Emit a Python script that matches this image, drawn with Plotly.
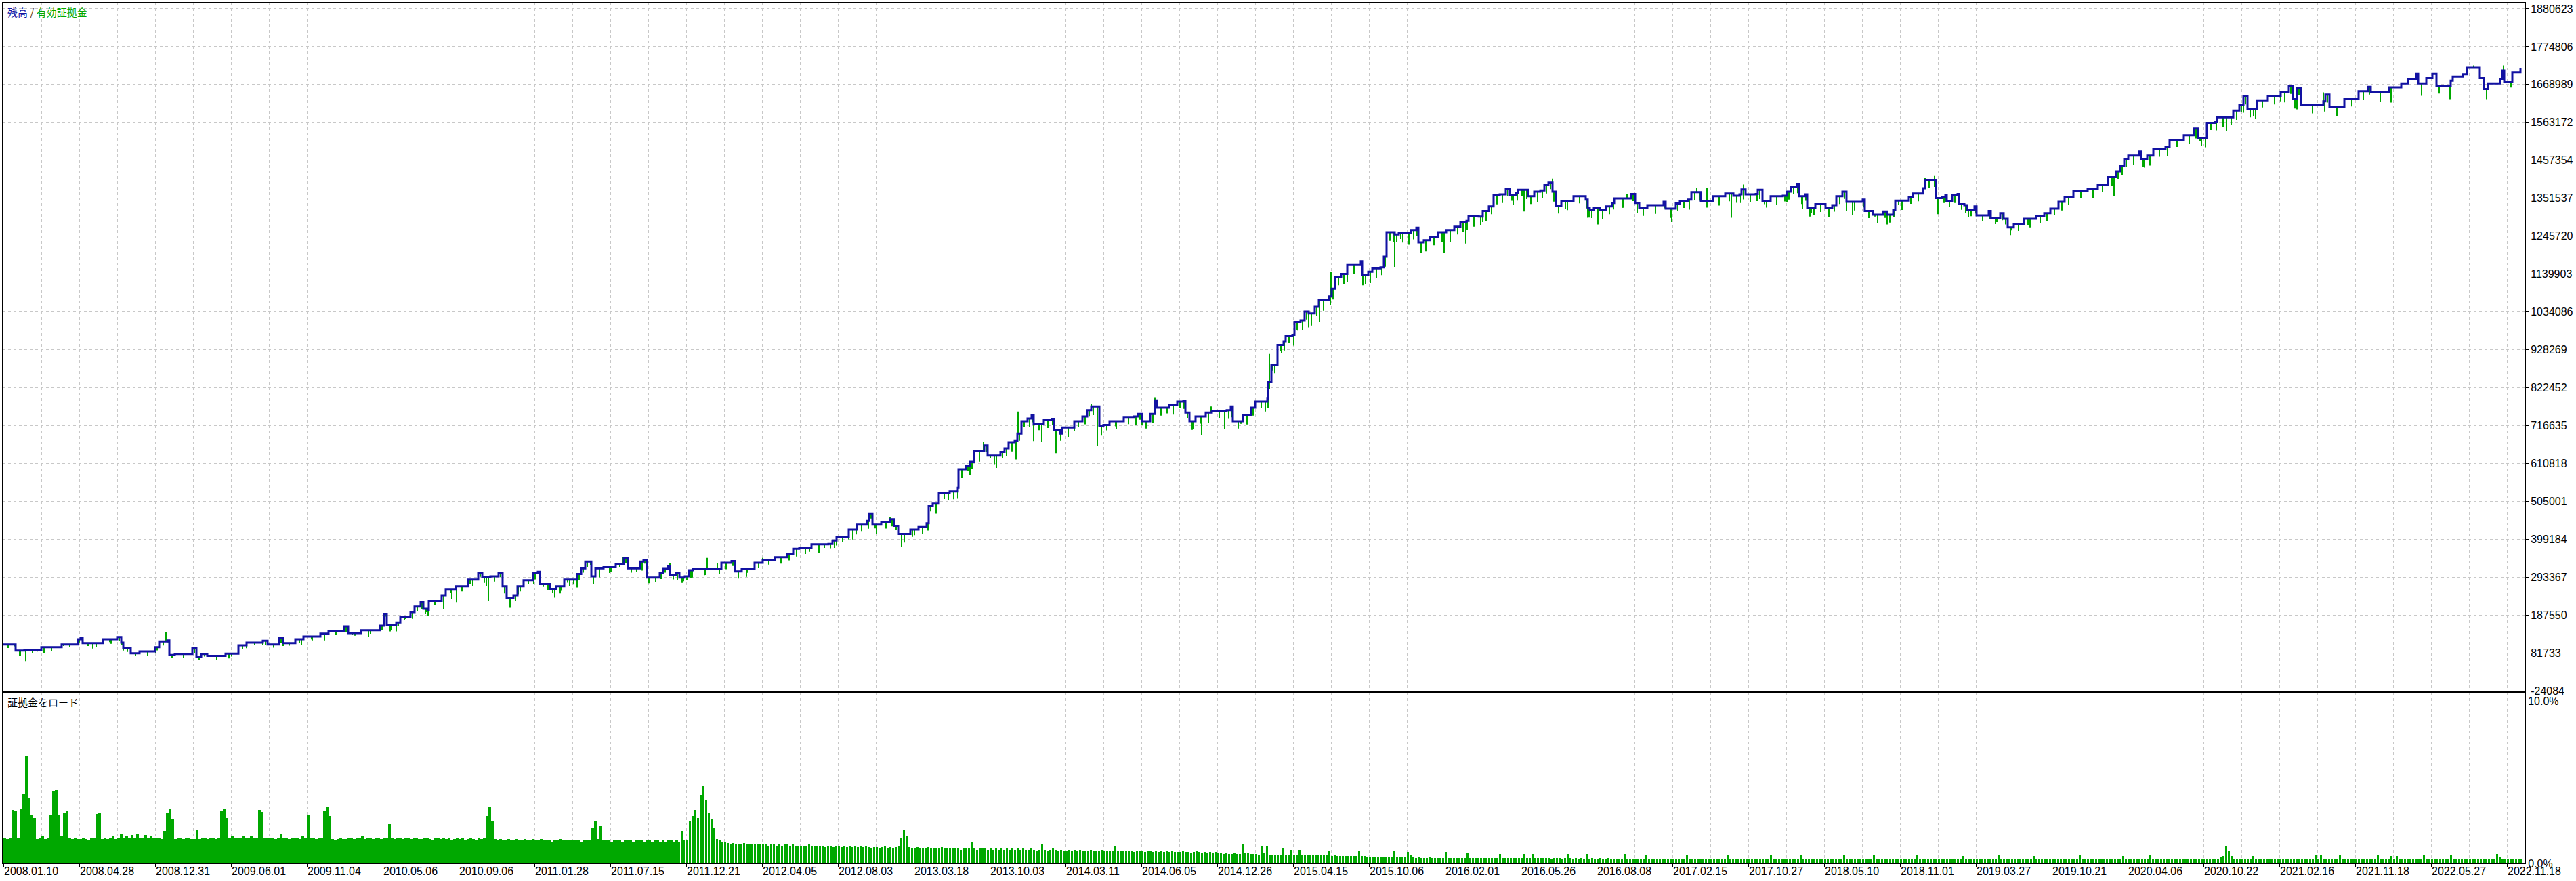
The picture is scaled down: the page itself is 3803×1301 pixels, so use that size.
import plotly.graph_objects as go
import numpy as np

# ---------------- data ----------------
deal_no = [4, 21, 23, 36, 61, 91, 115, 119, 122, 152, 173, 179, 182, 193, 206, 229, 235, 247, 250, 258,
           284, 290, 297, 306, 333, 352, 364, 388, 395, 412, 418, 436, 448, 473, 485, 508, 514, 533, 561, 567,
           571, 585, 591, 606, 612, 621, 625, 632, 633, 652, 658, 673, 691, 706, 712, 724, 736, 742, 748, 758,
           764, 773, 787, 794, 797, 806, 812, 821, 833, 842, 852, 858, 864, 870, 873, 879, 891, 909, 921, 927,
           936, 945, 950, 955, 962, 974, 979, 986, 989, 998, 1003, 1011, 1017, 1023, 1059, 1065, 1080, 1085, 1095, 1114,
           1126, 1144, 1162, 1171, 1180, 1198, 1223, 1229, 1235, 1253, 1265, 1280, 1283, 1288, 1301, 1314, 1320, 1326, 1344, 1356,
           1368, 1371, 1377, 1386, 1402, 1414, 1415, 1426, 1432, 1438, 1453, 1458, 1477, 1483, 1489, 1498, 1502, 1508, 1517, 1523,
           1526, 1541, 1553, 1556, 1565, 1568, 1586, 1598, 1605, 1611, 1617, 1623, 1629, 1638, 1659, 1674, 1680, 1686, 1698, 1705,
           1708, 1720, 1726, 1738, 1747, 1750, 1756, 1765, 1780, 1789, 1811, 1817, 1820, 1835, 1847, 1853, 1871, 1872, 1877, 1886,
           1895, 1898, 1908, 1911, 1920, 1926, 1932, 1941, 1947, 1962, 1966, 1971, 1980, 1989, 2009, 2011, 2020, 2026, 2038, 2043,
           2047, 2056, 2059, 2065, 2077, 2083, 2091, 2094, 2102, 2111, 2123, 2135, 2147, 2156, 2165, 2168, 2183, 2189, 2198, 2205,
           2214, 2223, 2229, 2238, 2241, 2253, 2256, 2265, 2274, 2280, 2286, 2292, 2297, 2305, 2323, 2341, 2344, 2347, 2353, 2362,
           2371, 2380, 2383, 2408, 2414, 2420, 2432, 2456, 2459, 2474, 2480, 2492, 2497, 2508, 2511, 2529, 2547, 2559, 2568, 2571,
           2577, 2592, 2595, 2602, 2614, 2632, 2638, 2644, 2653, 2656, 2665, 2668, 2677, 2680, 2695, 2705, 2711, 2720, 2726, 2750,
           2753, 2765, 2780, 2786, 2795, 2798, 2818, 2824, 2839, 2842, 2855, 2858, 2867, 2872, 2874, 2882, 2890, 2892, 2900, 2904,
           2915, 2918, 2936, 2939, 2953, 2958, 2964, 2973, 2988, 3006, 3018, 3027, 3039, 3048, 3061, 3082, 3097, 3112, 3124, 3130,
           3136, 3142, 3158, 3161, 3170, 3179, 3197, 3203, 3224, 3239, 3245, 3255, 3258, 3270, 3273, 3291, 3297, 3306, 3312, 3318,
           3327, 3332, 3348, 3367, 3379, 3385, 3391, 3397, 3430, 3433, 3439, 3461, 3482, 3496, 3500, 3527, 3545, 3555, 3567, 3570,
           3582, 3591, 3597, 3618, 3621, 3636, 3642, 3655, 3661, 3667, 3673, 3691, 3694, 3697, 3709, 3721]

balance = [105000, 105000, 88000, 88500, 97400, 105000, 119500, 122700, 108700, 119500, 125800, 110000, 94400, 80400, 85500, 97400, 113300, 116300, 75500, 78500,
           94400, 70900, 78500, 73500, 79500, 102600, 110000, 115200, 105000, 122700, 108700, 119500, 127400, 135200, 141600, 155400, 136500, 144900, 157300, 190800,
           160400, 166700, 182400, 195100, 210800, 223500, 204600, 201500, 226600, 242400, 258100, 267600, 286500, 305100, 292500, 295800, 305100, 267600, 236100, 242400,
           267600, 284500, 305100, 308200, 273900, 273900, 260000, 267600, 286500, 286500, 302200, 317900, 336900, 336900, 295800, 317900, 321000, 330500, 346000, 318000,
           317900, 336900, 340200, 292200, 292200, 305800, 316200, 323000, 299000, 305800, 292200, 295600, 312800, 315300, 315300, 333400, 338200, 309500, 315300, 333400,
           340200, 349000, 357400, 372800, 374000, 385100, 386000, 395200, 405600, 426300, 439900, 450300, 470800, 439900, 446800, 455000, 436400, 413700, 426300, 433000,
           443400, 491500, 498400, 529200, 532600, 543000, 594600, 604800, 615000, 645900, 661100, 632500, 642600, 652900, 670100, 673600, 694100, 728600, 736500, 745700,
           721600, 731600, 733700, 704400, 694100, 711100, 728600, 742000, 759300, 769700, 769700, 714700, 718100, 728600, 738700, 742000, 749100, 728600, 749100, 787000,
           766400, 766400, 773200, 783600, 785000, 752600, 728600, 742000, 752600, 756000, 759300, 769700, 728600, 745700, 766400, 783600, 791400, 838500, 886600, 941500,
           951900, 966600, 969700, 1005700, 1010700, 1035000, 1030000, 1048600, 1067500, 1077000, 1098900, 1130500, 1139900, 1165000, 1175800, 1136700, 1146100, 1155600, 1158700, 1188500,
           1256500, 1256500, 1250200, 1253400, 1253400, 1262800, 1269000, 1228100, 1234400, 1243800, 1256500, 1262800, 1272200, 1284900, 1288000, 1301800, 1300600, 1316200, 1328900, 1360400,
           1362300, 1377400, 1360400, 1366700, 1374900, 1374900, 1357200, 1369800, 1373000, 1388700, 1395000, 1369800, 1330800, 1344600, 1357200, 1347800, 1325700, 1318100, 1324400, 1319400,
           1328900, 1338300, 1351000, 1363500, 1338300, 1324400, 1332000, 1341500, 1322500, 1337000, 1344600, 1347800, 1368600, 1368600, 1343300, 1357200, 1364800, 1358500, 1362300, 1376100,
           1362300, 1363500, 1374900, 1343300, 1357200, 1358500, 1369800, 1382400, 1391800, 1357200, 1362300, 1324400, 1325700, 1335100, 1325700, 1332000, 1357200, 1369800, 1341500, 1347800,
           1316200, 1305600, 1314400, 1305600, 1319400, 1345000, 1354000, 1364800, 1379300, 1401300, 1401300, 1352100, 1354000, 1360400, 1344600, 1360400, 1363500, 1335100, 1332000, 1319400,
           1328900, 1303700, 1316200, 1297300, 1309900, 1294300, 1270300, 1278400, 1294300, 1301800, 1309900, 1322500, 1341500, 1354000, 1372900, 1377400, 1389900, 1410700, 1426500, 1442200,
           1461100, 1470600, 1481900, 1461100, 1470600, 1489500, 1494600, 1514600, 1527300, 1546200, 1519700, 1519700, 1561900, 1565000, 1577700, 1577700, 1596600, 1612300, 1637400, 1599600,
           1599600, 1625000, 1637400, 1646900, 1664600, 1628000, 1659600, 1612300, 1621800, 1640700, 1606100, 1628000, 1650100, 1662800, 1646900, 1661000, 1672200, 1684700, 1698700, 1672200,
           1687900, 1698700, 1665800, 1679800, 1691000, 1697500, 1716200, 1716200, 1687900, 1656300, 1672200, 1684700, 1708700, 1677100, 1703500, 1716200]

# deepest floating loss (thousands) while each balance level was held
float_loss_k = [10, 5, 14, 8, 12, 6, 9, 4, 15, 8, 12, 6, 10, 7, 13, 9, 11, 5, 8, 12,
                14, 9, 7, 12, 8, 10, 6, 11, 9, 13, 7, 10, 8, 12, 9, 15, 7, 10, 12, 8,
                15, 10, 6, 18, 12, 20, 14, 16, 12, 22, 10, 14, 18, 11, 25, 15, 12, 20, 9, 16,
                14, 10, 18, 12, 8, 16, 11, 20, 9, 14, 18, 12, 15, 10, 22, 13, 16, 9, 14, 12,
                10, 14, 9, 16, 12, 18, 10, 14, 12, 20, 15, 11, 22, 16, 12, 18, 14, 20, 10, 15,
                12, 18, 14, 22, 16, 25, 12, 20, 15, 28, 18, 22, 14, 26, 18, 20, 12, 24, 16, 20,
                20, 15, 28, 18, 22, 16, 25, 14, 20, 30, 18, 24, 16, 22, 26, 18, 20, 15, 24, 20,
                18, 22, 16, 25, 20, 28, 16, 22, 18, 24, 20, 26, 15, 22, 18, 24, 16, 20, 25, 30,
                22, 16, 26, 18, 22, 16, 24, 20, 28, 18, 24, 30, 20, 26, 22, 18, 26, 20, 24, 16,
                26, 20, 30, 24, 28, 22, 34, 26, 30, 24, 30, 22, 28, 26, 32, 24, 28, 26, 22, 28,
                24, 28, 22, 26, 32, 26, 22, 30, 26, 24, 28, 34, 22, 28, 26, 30, 24, 28, 22, 26,
                24, 20, 28, 22, 18, 26, 22, 30, 20, 24, 18, 28, 22, 26, 20, 24, 28, 22, 18, 26,
                22, 18, 26, 20, 28, 22, 24, 18, 26, 22, 20, 28, 22, 24, 18, 26, 22, 20, 24, 28,
                22, 20, 26, 18, 24, 16, 22, 20, 26, 22, 18, 24, 20, 22, 26, 18, 22, 20, 24, 22,
                20, 24, 18, 22, 20, 26, 18, 22, 16, 20, 18, 22, 16, 20, 18, 22, 20, 16, 22, 18,
                20, 16, 22, 18, 20, 16, 22, 18, 24, 20, 22, 18, 24, 20, 22, 26, 20, 24, 22, 26,
                22, 26, 20, 24, 28, 22, 26, 20, 24, 28, 22, 26, 20, 24, 28, 22, 26, 20, 24, 22,
                26, 20, 24, 28, 22, 26, 20, 24, 28, 22, 26, 20, 24, 22, 26, 0]

dip_deal = [29, 38, 55, 65, 76, 94, 130, 142, 164, 182, 206, 230, 245, 255, 291, 320, 338, 364, 388, 418,
            445, 461, 479, 520, 544, 576, 585, 597, 630, 655, 667, 674, 694, 715, 721, 753, 765, 788, 819, 829,
            841, 852, 876, 885, 902, 919, 948, 959, 975, 989, 1009, 1022, 1040, 1044, 1059, 1102, 1126, 1165, 1195, 1208,
            1217, 1235, 1253, 1264, 1292, 1314, 1331, 1347, 1400, 1414, 1432, 1452, 1462, 1471, 1500, 1503, 1526, 1538, 1559, 1586,
            1611, 1620, 1626, 1647, 1686, 1705, 1762, 1774, 1788, 1808, 1832, 1868, 1874, 1879, 1892, 1915, 1932, 1948, 1965, 1971,
            1989, 2012, 2023, 2053, 2059, 2068, 2098, 2105, 2132, 2164, 2189, 2232, 2250, 2292, 2301, 2311, 2344, 2359, 2395, 2402,
            2468, 2505, 2520, 2556, 2574, 2605, 2638, 2661, 2674, 2726, 2735, 2768, 2786, 2803, 2842, 2856, 2861, 2906, 2948, 2970,
            2994, 3121, 3164, 3248, 3287, 3312, 3327, 3367, 3391, 3430, 3439, 3530, 3575, 3601, 3617, 3652, 3671, 3696, 3707]

dip_equity = [72300, 58500, 85000, 81700, 91200, 100700, 100700, 97400, 106900, 88000, 78500, 79900, 138400, 69000, 69000, 62800, 66000, 94400, 103900, 100700,
              103900, 116300, 116300, 132200, 125800, 141600, 141600, 173000, 195100, 204600, 232900, 223400, 274000, 277000, 226600, 207800, 245600, 274000, 236100, 255000,
              267600, 264500, 287700, 292800, 308500, 350600, 311600, 281900, 288600, 333400, 281900, 292200, 299000, 347200, 333400, 294300, 347200, 340200, 364300, 360800,
              375000, 381500, 398600, 412400, 429600, 462000, 376700, 405600, 508600, 512000, 577400, 672000, 625400, 598000, 622000, 755900, 673600, 670100, 639200, 700900,
              776500, 659800, 700900, 714700, 718100, 793800, 708000, 690800, 769700, 708000, 721600, 755900, 916400, 869100, 919400, 982500, 990600, 1005800, 1146200, 1111600,
              1117800, 1108400, 1114700, 1240600, 1158800, 1237600, 1215500, 1202800, 1199800, 1224900, 1284900, 1344600, 1314400, 1406300, 1319400, 1321500, 1297300, 1278400, 1325700, 1363500,
              1284900, 1379300, 1379300, 1297300, 1389900, 1335100, 1341500, 1322600, 1309900, 1316200, 1303700, 1300500, 1278400, 1332100, 1407700, 1413900, 1306800, 1299200, 1284900, 1261400,
              1276600, 1357200, 1439000, 1511600, 1539900, 1590200, 1580800, 1621800, 1599600, 1646900, 1602900, 1618500, 1637400, 1643700, 1628000, 1722500, 1628000, 1722500, 1660900]

margin_load = [
    1.6, 1.5, 1.6, 3.3, 3.2, 1.6, 3.35, 4.3, 6.6, 4.0, 3.0, 2.8, 1.5, 1.6,
    1.7, 1.5, 1.6, 3.0, 4.45, 4.55, 3.0, 1.7, 3.1, 3.2, 1.6, 1.5, 1.55, 1.5,
    1.5, 1.6, 1.5, 1.4, 1.55, 1.6, 3.05, 3.1, 1.5, 1.6, 1.5, 1.55, 1.65, 1.5,
    1.6, 1.8, 1.6, 1.7, 1.55, 1.75, 1.6, 1.8, 1.6, 1.55, 1.75, 1.6, 1.7, 1.6,
    1.55, 1.6, 1.5, 2.0, 3.1, 3.35, 2.7, 1.5, 1.55, 1.6, 1.5, 1.55, 1.6, 1.5,
    1.5, 2.1, 1.5, 1.55, 1.6, 1.5, 1.55, 1.6, 1.5, 1.55, 3.2, 3.35, 2.8, 1.6,
    1.7, 1.55, 1.6, 1.55, 1.65, 1.55, 1.6, 1.7, 1.55, 1.6, 3.3, 3.15, 1.6, 1.55,
    1.55, 1.6, 1.5, 1.6, 1.8, 1.55, 1.6, 1.5, 1.55, 1.6, 1.55, 1.5, 1.65, 1.55,
    2.95, 1.55, 1.6, 1.5, 1.55, 1.6, 3.2, 3.45, 2.9, 1.5, 1.45, 1.5, 1.55, 1.5,
    1.5, 1.6, 1.55, 1.5, 1.6, 1.55, 1.65, 1.5, 1.55, 1.6, 1.5, 1.55, 1.6, 1.5,
    1.55, 1.6, 2.4, 1.55, 1.5, 1.6, 1.55, 1.5, 1.6, 1.55, 1.5, 1.6, 1.55, 1.5,
    1.5, 1.55, 1.6, 1.5, 1.45, 1.55, 1.6, 1.5, 1.55, 1.5, 1.6, 1.45, 1.5, 1.55,
    1.5, 1.55, 1.45, 1.5, 1.6, 1.5, 1.45, 1.55, 1.5, 1.6, 2.9, 3.5, 2.6, 1.5,
    1.45, 1.5, 1.4, 1.45, 1.5, 1.4, 1.45, 1.5, 1.45, 1.4, 1.5, 1.45, 1.4, 1.5,
    1.4, 1.45, 1.5, 1.4, 1.45, 1.4, 1.35, 1.45, 1.4, 1.5, 1.45, 1.4, 1.45, 1.4,
    1.4, 1.45, 1.4, 1.35, 1.4, 1.45, 1.4, 2.2, 2.6, 1.5, 2.3, 1.4, 1.45, 1.4,
    1.35, 1.4, 1.45, 1.4, 1.35, 1.4, 1.45, 1.4, 1.35, 1.4, 1.4, 1.45, 1.35, 1.4,
    1.4, 1.35, 1.4, 1.45, 1.35, 1.4, 1.35, 1.4, 1.45, 1.35, 1.4, 1.35, 2.0, 1.4,
    1.4, 2.6, 2.9, 3.3, 2.8, 4.2, 4.8, 3.9, 3.1, 2.7, 2.2, 1.5, 1.4, 1.35,
    1.3, 1.25, 1.2, 1.25, 1.2, 1.15, 1.2, 1.25, 1.2, 1.15, 1.2, 1.2, 1.15, 1.2,
    1.15, 1.2, 1.1, 1.15, 1.2, 1.1, 1.15, 1.1, 1.15, 1.2, 1.1, 1.15, 1.1, 1.05,
    1.1, 1.05, 1.1, 1.15, 1.05, 1.1, 1.05, 1.1, 1.05, 1.0, 1.1, 1.05, 1.0, 1.05,
    1.05, 1.0, 1.05, 1.0, 1.1, 1.0, 1.05, 1.0, 1.05, 1.0, 1.05, 1.0, 0.95, 1.0,
    1.0, 0.95, 1.0, 1.05, 0.95, 1.0, 0.95, 1.0, 1.05, 1.6, 2.1, 1.7, 1.0, 0.95,
    0.95, 1.0, 0.95, 0.9, 0.95, 1.0, 0.9, 0.95, 0.9, 0.95, 1.0, 0.9, 0.95, 0.9,
    0.9, 0.95, 0.9, 0.85, 0.9, 0.95, 0.9, 1.3, 0.9, 0.85, 0.9, 0.95, 0.9, 0.85,
    0.9, 0.85, 0.9, 0.85, 0.9, 0.85, 0.9, 0.85, 0.9, 0.85, 0.9, 0.85, 0.9, 0.85,
    0.85, 0.9, 0.85, 0.8, 0.85, 1.2, 0.85, 0.8, 0.85, 0.9, 0.85, 0.8, 0.85, 0.8,
    0.8, 0.85, 0.8, 0.85, 0.8, 0.85, 0.8, 0.75, 0.8, 0.85, 0.8, 0.75, 0.8, 0.85,
    0.8, 0.75, 0.8, 0.75, 1.1, 0.8, 0.75, 0.8, 0.75, 0.8, 0.75, 0.7, 0.75, 0.8,
    0.75, 0.7, 0.75, 0.8, 0.7, 0.75, 0.7, 0.75, 0.7, 0.75, 0.7, 0.75, 0.7, 0.7,
    0.7, 0.75, 0.7, 0.7, 0.65, 0.7, 0.75, 0.7, 0.65, 0.7, 0.65, 0.7, 0.65, 0.7,
    0.65, 0.63, 0.6, 0.63, 0.6, 0.6, 0.63, 0.6, 0.6, 1.17, 0.63, 0.63, 0.6, 0.6,
    0.58, 0.55, 1.08, 0.62, 1.08, 0.55, 0.55, 0.53, 0.55, 0.55, 0.92, 0.55, 0.53, 0.85,
    0.53, 0.55, 0.85, 0.55, 0.5, 0.53, 0.52, 0.53, 0.52, 0.5, 0.53, 0.5, 0.52, 0.8,
    0.45, 0.48, 0.47, 0.45, 0.45, 0.47, 0.46, 0.45, 0.45, 0.44, 0.78, 0.45, 0.44, 0.43,
    0.42, 0.4, 0.4, 0.38, 0.4, 0.4, 0.38, 0.4, 0.38, 0.75, 0.38, 0.36, 0.37, 0.36,
    0.7, 0.5, 0.36, 0.35, 0.36, 0.35, 0.34, 0.35, 0.36, 0.35, 0.34, 0.35, 0.34, 0.35,
    0.7, 0.34, 0.33, 0.34, 0.33, 0.34, 0.33, 0.34, 0.64, 0.33, 0.34, 0.33, 0.32, 0.33,
    0.33, 0.32, 0.33, 0.32, 0.33, 0.32, 0.6, 0.33, 0.32, 0.32, 0.33, 0.32, 0.32, 0.33,
    0.33, 0.6, 0.32, 0.32, 0.6, 0.33, 0.32, 0.32, 0.33, 0.32, 0.32, 0.31, 0.32, 0.32,
    0.32, 0.31, 0.32, 0.58, 0.32, 0.31, 0.32, 0.31, 0.32, 0.31, 0.58, 0.31, 0.32, 0.31,
    0.31, 0.32, 0.31, 0.31, 0.32, 0.31, 0.31, 0.3, 0.31, 0.31, 0.58, 0.31, 0.3, 0.31,
    0.31, 0.3, 0.31, 0.3, 0.55, 0.31, 0.3, 0.3, 0.31, 0.3, 0.3, 0.31, 0.3, 0.3,
    0.3, 0.31, 0.3, 0.3, 0.3, 0.52, 0.3, 0.3, 0.31, 0.3, 0.3, 0.3, 0.29, 0.3,
    0.3, 0.29, 0.3, 0.3, 0.29, 0.3, 0.55, 0.3, 0.29, 0.3, 0.29, 0.3, 0.3, 0.29,
    0.29, 0.3, 0.29, 0.29, 0.3, 0.29, 0.29, 0.3, 0.5, 0.29, 0.29, 0.3, 0.29, 0.29,
    0.29, 0.28, 0.29, 0.29, 0.28, 0.55, 0.29, 0.28, 0.29, 0.28, 0.29, 0.28, 0.29, 0.28,
    0.28, 0.29, 0.28, 0.28, 0.29, 0.28, 0.28, 0.5, 0.28, 0.28, 0.29, 0.28, 0.28, 0.28,
    0.28, 0.28, 0.29, 0.28, 0.55, 0.28, 0.28, 0.28, 0.27, 0.28, 0.28, 0.28, 0.27, 0.28,
    0.28, 0.27, 0.28, 0.28, 0.27, 0.28, 0.5, 0.28, 0.27, 0.28, 0.27, 0.28, 0.28, 0.27,
    0.27, 0.28, 0.27, 0.27, 0.28, 0.27, 0.27, 0.28, 0.27, 0.45, 0.27, 0.27, 0.28, 0.27,
    0.27, 0.27, 0.28, 0.27, 0.27, 0.27, 0.28, 0.27, 0.5, 0.27, 0.27, 0.27, 0.28, 0.27,
    0.27, 0.27, 0.27, 0.26, 0.27, 0.27, 0.27, 0.45, 0.27, 0.26, 0.27, 0.27, 0.26, 0.27,
    0.27, 0.26, 0.27, 0.27, 0.26, 0.27, 0.26, 0.27, 0.27, 0.26, 0.48, 0.27, 0.26, 0.27,
    0.26, 0.27, 0.26, 0.26, 0.27, 0.26, 0.26, 0.27, 0.26, 0.26, 0.27, 0.26, 0.45, 0.26,
    0.26, 0.27, 0.26, 0.26, 0.26, 0.27, 0.26, 0.26, 0.5, 0.26, 0.26, 0.27, 0.26, 0.26,
    0.26, 0.26, 0.27, 0.26, 0.26, 0.26, 0.26, 0.27, 0.26, 0.26, 0.26, 0.26, 0.27, 0.26,
    0.26, 0.26, 0.27, 0.26, 0.26, 0.26, 0.4, 0.45, 1.1, 0.8, 0.45, 0.26, 0.27, 0.26,
    0.26, 0.26, 0.26, 0.26, 0.47, 0.26, 0.26, 0.26, 0.26, 0.26, 0.26, 0.26, 0.26, 0.26,
    0.26, 0.26, 0.26, 0.26, 0.26, 0.27, 0.26, 0.26, 0.28, 0.27, 0.26, 0.28, 0.26, 0.53,
    0.3, 0.53, 0.27, 0.26, 0.27, 0.26, 0.3, 0.26, 0.48, 0.3, 0.26, 0.27, 0.26, 0.26,
    0.26, 0.26, 0.26, 0.26, 0.26, 0.26, 0.26, 0.3, 0.53, 0.3, 0.26, 0.26, 0.26, 0.45,
    0.26, 0.45, 0.26, 0.26, 0.26, 0.26, 0.26, 0.26, 0.26, 0.26, 0.3, 0.53, 0.3, 0.26,
    0.26, 0.26, 0.26, 0.26, 0.26, 0.26, 0.3, 0.53, 0.3, 0.26, 0.26, 0.26, 0.26, 0.26,
    0.26, 0.26, 0.26, 0.26, 0.26, 0.26, 0.26, 0.26, 0.26, 0.3, 0.58, 0.4, 0.26, 0.26,
    0.26, 0.26, 0.26, 0.26, 0.26, 0.26,
]

y_tick_values = [1880623, 1774806, 1668989, 1563172, 1457354, 1351537, 1245720, 1139903, 1034086, 928269,
                 822452, 716635, 610818, 505001, 399184, 293367, 187550, 81733, -24084]

x_tick_labels = ["2008.01.10", "2008.04.28", "2008.12.31", "2009.06.01", "2009.11.04", "2010.05.06",
                 "2010.09.06", "2011.01.28", "2011.07.15", "2011.12.21", "2012.04.05", "2012.08.03",
                 "2013.03.18", "2013.10.03", "2014.03.11", "2014.06.05", "2014.12.26", "2015.04.15",
                 "2015.10.06", "2016.02.01", "2016.05.26", "2016.08.08", "2017.02.15", "2017.10.27",
                 "2018.05.10", "2018.11.01", "2019.03.27", "2019.10.21", "2020.04.06", "2020.10.22",
                 "2021.02.16", "2021.11.18", "2022.05.27", "2022.11.18"]

# ---------------- layout helpers ----------------
X_RANGE = [4, 3728]
label_pos = [5 + 112 * k for k in range(len(x_tick_labels))]
mid_pos = [61 + 112 * k for k in range(len(x_tick_labels) - 1)]
grid_pos = sorted(label_pos + mid_pos)
bar_x = [6.5 + 4 * i for i in range(len(margin_load))]
# bars sit edge to edge in the dense early years, with hairline gaps later on
bar_w = [4 if bx_ < 1000 else 3 for bx_ in bar_x]

BLUE = "#1212A2"
GREEN = "#00A800"
GRID = "#C8C8C8"
TICKFONT = dict(family="Liberation Sans, Arial, sans-serif", size=16, color="#000000")

bx = np.array(deal_no, dtype=float)
by = np.array(balance, dtype=float)

# equity excursions drawn as vertical hairs from the balance level
seg_x, seg_y = [], []
for i, loss in enumerate(float_loss_k[:len(bx) - 1]):
    if loss <= 0:
        continue
    xm = round(0.5 * (bx[i] + bx[i + 1]))
    seg_x += [xm, xm, None]
    seg_y += [by[i], by[i] - loss * 1000, None]
for dx, dv in zip(dip_deal, dip_equity):
    idx = max(np.searchsorted(bx, dx, side="right") - 1, 0)
    seg_x += [dx, dx, None]
    seg_y += [by[idx], dv, None]

fig = go.Figure()
fig.add_trace(go.Scatter(x=seg_x, y=seg_y, mode="lines", line=dict(color=GREEN, width=2),
                         xaxis="x", yaxis="y", hoverinfo="skip", showlegend=False))
fig.add_trace(go.Scatter(x=deal_no, y=balance, mode="lines",
                         line=dict(color=BLUE, width=3, shape="hv"),
                         xaxis="x", yaxis="y", showlegend=False))
fig.add_trace(go.Bar(x=bar_x, y=margin_load, width=bar_w, marker=dict(color=GREEN, line=dict(width=0)),
                     xaxis="x2", yaxis="y2", showlegend=False))

top_h = 1275 - 4
main_bottom = (1275 - 1021) / top_h
sub_top = (1275 - 1023) / top_h

fig.update_layout(
    width=3803, height=1301,
    margin=dict(l=4, r=75, t=4, b=26),
    paper_bgcolor="white", plot_bgcolor="white",
    showlegend=False, bargap=0,
    xaxis=dict(domain=[0, 1], anchor="y", range=X_RANGE, tickmode="array", tickvals=grid_pos,
               showticklabels=False, ticks="", showgrid=True, gridcolor=GRID, griddash="4px,4px",
               gridwidth=1, zeroline=False, showline=True, mirror=True, linecolor="#000000", linewidth=1),
    yaxis=dict(domain=[main_bottom, 1], anchor="x", side="right",
               range=[-25974, 1897633], tickmode="array", tickvals=y_tick_values,
               ticktext=[str(v) for v in y_tick_values], ticks="outside", ticklen=4,
               tickcolor="#000000", tickfont=TICKFONT, showgrid=True, gridcolor=GRID,
               griddash="4px,4px", gridwidth=1, zeroline=False, showline=True, mirror=True,
               linecolor="#000000", linewidth=1),
    xaxis2=dict(domain=[0, 1], anchor="y2", range=X_RANGE, tickmode="array", tickvals=label_pos,
                showticklabels=False, ticks="outside", ticklen=4, tickcolor="#000000",
                showgrid=True, gridcolor=GRID, griddash="4px,4px", gridwidth=1,
                minor=dict(tickmode="array", tickvals=mid_pos, showgrid=True, gridcolor=GRID,
                           griddash="4px,4px", gridwidth=1, ticks=""),
                zeroline=False, showline=True, mirror=True, linecolor="#000000", linewidth=1),
    yaxis2=dict(domain=[0, sub_top], anchor="x2", side="right", range=[0, 10.5],
                tickmode="array", tickvals=[0, 10], ticktext=["0.0%", "10.0%"], ticks="",
                tickfont=TICKFONT, showgrid=False, zeroline=False, showline=True, mirror=True,
                linecolor="#000000", linewidth=1),
)

annotations = []
for pos, lab in zip(label_pos, x_tick_labels):
    annotations.append(dict(x=pos, y=0, xref="x2", yref="paper", text=lab, showarrow=False,
                            xanchor="left", yanchor="top", xshift=-1, yshift=-1, font=TICKFONT))
annotations.append(dict(x=0, y=1, xref="paper", yref="paper", xanchor="left", yanchor="top",
                        xshift=5, yshift=-1, showarrow=False,
                        text=f'<span style="color:{BLUE}">残高</span> <span style="color:#5a3000">/</span> '
                             f'<span style="color:{GREEN}">有効証拠金</span>',
                        font=dict(family="Noto Sans CJK JP", size=15)))
annotations.append(dict(x=0, y=sub_top, xref="paper", yref="paper", xanchor="left", yanchor="top",
                        xshift=5, yshift=-1, showarrow=False, text="証拠金をロード",
                        font=dict(family="Noto Sans CJK JP", size=15, color="#000000")))
fig.update_layout(annotations=annotations)

fig.write_html("out.html", config={"displayModeBar": False},
               post_script="document.body.style.margin='0px';document.body.style.overflow='hidden';")
